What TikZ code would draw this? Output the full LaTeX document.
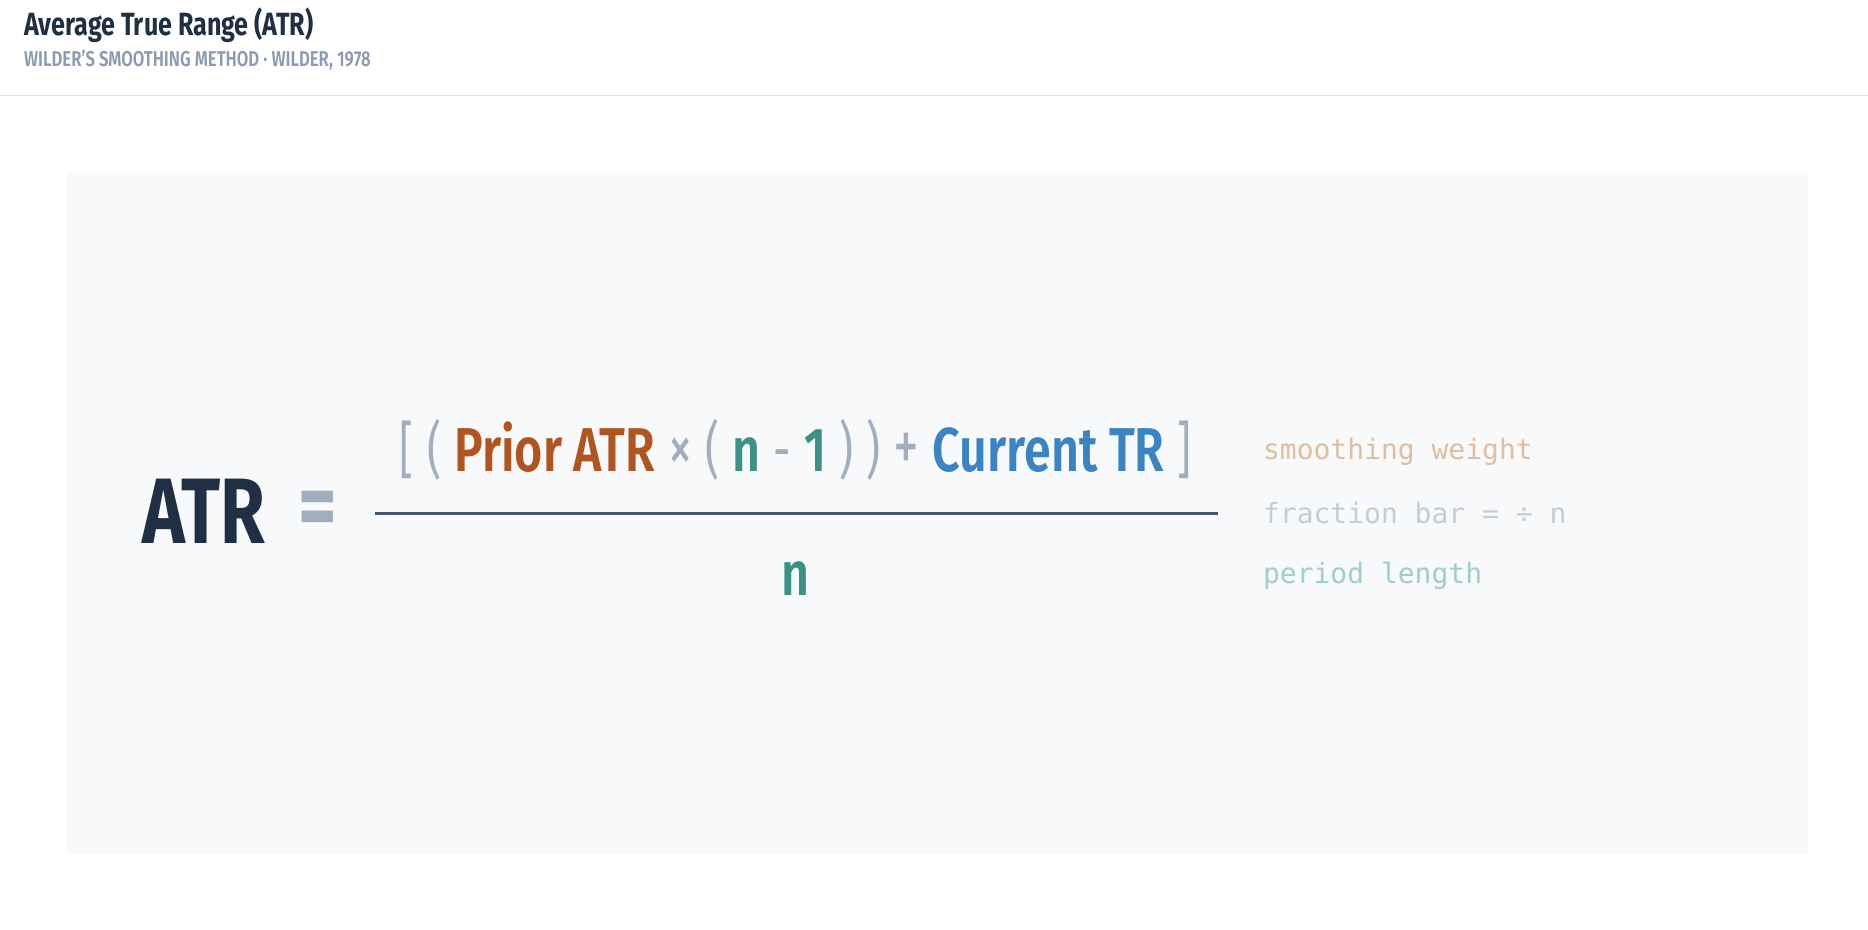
\documentclass[tikz,border=0pt]{standalone}
\usepackage{fontspec}
\setmainfont{Fira Sans}[FakeStretch=0.78,UprightFont=* SemiBold,BoldFont=* Bold]
\newfontfamily\regf{Fira Sans}[FakeStretch=0.7]
\newfontfamily\monof{DejaVu Sans Mono}
\definecolor{ink}{HTML}{1F2F44}
\definecolor{sub}{HTML}{8A9BB3}
\definecolor{sep}{HTML}{DBE3EE}
\definecolor{panel}{HTML}{F8F9FB}
\definecolor{gr}{HTML}{A0AEC0}
\definecolor{bar}{HTML}{45566E}
\definecolor{org}{HTML}{B0551F}
\definecolor{teal}{HTML}{3A9186}
\definecolor{blu}{HTML}{3A84C4}
\definecolor{ann1}{HTML}{DFBF9F}
\definecolor{ann2}{HTML}{C4CCD6}
\definecolor{ann3}{HTML}{9FCFC8}
\newcommand{\gp}[1]{{\color{gr}\regf #1}}
\newcommand{\gs}{\hspace{11pt}}
\tikzset{ann/.style={anchor=west,inner sep=0pt,font=\monof\fontsize{23.5}{25}\selectfont}}
\begin{document}
\begin{tikzpicture}[x=1pt,y=-1pt]
\useasboundingbox (0,0) rectangle (1568,780);
\fill[white] (0,0) rectangle (1568,780);
\node[anchor=base west,inner sep=0pt,text=ink,font=\bfseries\fontsize{27}{28}\selectfont] (title) at (20,30) {Average True Range (ATR)};
\node[anchor=base west,inner sep=0pt,text=sub,font=\fontsize{18}{20}\selectfont] (subt) at (20,56) {WILDER'S SMOOTHING METHOD · WILDER, 1978};
\draw[sep,line width=1.2pt] (0,80) -- (1568,80);
\fill[panel] (56,145) rectangle (1518,717);
\node[anchor=base west,inner sep=0pt,text=ink,font=\bfseries\fontsize{78}{80}\selectfont] (atr) at (119,456) {ATR};
\node[anchor=base,inner sep=0pt,text=gr,font=\bfseries\fontsize{80}{80}\selectfont] (eq) at (267,452) {=};
\draw[bar,line width=3pt] (315,431) coordinate (b1) -- (1022,431) coordinate (b2);
\node[anchor=base,inner sep=0pt,font=\fontsize{52}{54}\selectfont] (num) at (668,396)
 {\gp{[}\gs\gp{(}\gs{\color{org}Prior ATR}\gs\gp{\fontsize{58}{58}\selectfont×}\gs\gp{(}\gs{\color{teal}n}\gs\gp{-}\gs{\color{teal}1}\gs\gp{)}\gs\gp{)}\gs\gp{\fontsize{62}{62}\selectfont+}\gs{\color{blu}Current TR}\gs\gp{]}};
\node[anchor=base,inner sep=0pt,text=teal,font=\fontsize{52}{54}\selectfont] (den) at (668,500) {n};
\node[ann,text=ann1] (a1) at (1060,379) {smoothing weight};
\node[ann,text=ann2] (a2) at (1060,431) {fraction bar = ÷ n};
\node[ann,text=ann3] (a3) at (1060,483) {period length};
\end{tikzpicture}
\end{document}
